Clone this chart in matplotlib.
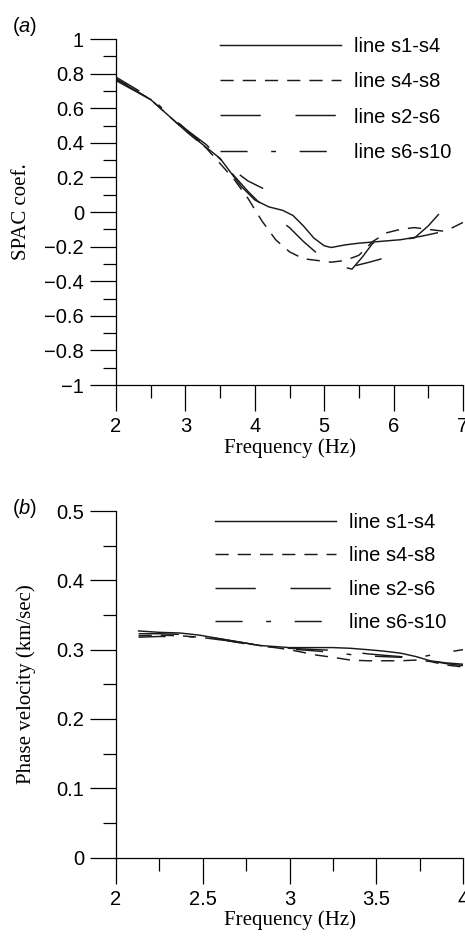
"""
SPAC coefficients and phase-velocity dispersion curves for four station lines.
"""
import numpy as np
import matplotlib
matplotlib.use('Agg')
import matplotlib.pyplot as plt
from matplotlib.ticker import MultipleLocator, FuncFormatter

plt.rcParams['font.family'] = ['Liberation Sans', 'DejaVu Sans']
plt.rcParams['mathtext.fontset'] = 'custom'
plt.rcParams['mathtext.rm'] = 'Liberation Sans'
plt.rcParams['mathtext.it'] = 'Liberation Sans:italic'
plt.rcParams['lines.scale_dashes'] = False

labels = ['line s1-s4', 'line s4-s8', 'line s2-s6', 'line s6-s10']

# (a) SPAC coefficient vs frequency
spac_f_s1s4 = [2.0, 2.25, 2.5, 2.75, 3.0, 3.25, 3.5, 3.65, 3.8, 4.0, 4.2, 4.4,
               4.55, 4.7, 4.85, 5.0, 5.1, 5.3, 5.5, 5.8, 6.1, 6.4, 6.63]
spac_v_s1s4 = [0.77, 0.71, 0.65, 0.56, 0.47, 0.39, 0.31, 0.23, 0.15, 0.07, 0.03, 0.01,
               -0.02, -0.08, -0.15, -0.195, -0.205, -0.19, -0.18, -0.17, -0.16, -0.14, -0.12]

spac_f_s4s8 = [2.0, 2.5, 3.0, 3.3, 3.5, 3.7, 3.9, 4.1, 4.3, 4.5, 4.7, 4.9, 5.1,
               5.3, 5.5, 5.7, 5.9, 6.1, 6.3, 6.5, 6.7, 6.85, 7.0]
spac_v_s4s8 = [0.77, 0.65, 0.47, 0.37, 0.28, 0.19, 0.08, -0.05, -0.16, -0.23, -0.27, -0.28, -0.29,
               -0.28, -0.25, -0.17, -0.12, -0.10, -0.09, -0.10, -0.11, -0.09, -0.06]

spac_f_s2s6 = [2.0, 2.5, 3.0, 3.3, 3.5, 3.7, 3.9, 4.1, 4.3, 4.5, 4.7, 4.9, 5.1,
               5.3, 5.4, 5.55, 5.7, 5.9, 6.1, 6.3, 6.5, 6.7, 6.8, 6.95]
spac_v_s2s6 = [0.76, 0.65, 0.48, 0.39, 0.31, 0.21, 0.12, 0.04, -0.03, -0.09, -0.17, -0.24, -0.29,
               -0.32, -0.33, -0.26, -0.18, -0.16, -0.16, -0.15, -0.08, 0.01, 0.02, 0.01]

spac_f_s6s10 = [2.0, 2.5, 3.0, 3.3, 3.6, 3.9, 4.2, np.nan, 5.45, 5.65, 5.83]
spac_v_s6s10 = [0.78, 0.66, 0.48, 0.38, 0.27, 0.18, 0.12, np.nan, -0.31, -0.29, -0.27]

# (b) phase velocity vs frequency
vel_f = [2.13, 2.25, 2.37, 2.48, 2.64, 2.83, 3.0, 3.16, 3.25, 3.35, 3.45, 3.54, 3.64, 3.73, 3.81, 3.9, 4.0]
vel_s1s4 = [0.327, 0.325, 0.324, 0.321, 0.314, 0.306, 0.303, 0.303, 0.303, 0.302, 0.300, 0.298,
            0.295, 0.290, 0.284, 0.281, 0.279]
vel_s4s8 = [0.320, 0.321, 0.320, 0.318, 0.313, 0.306, 0.300, 0.292, 0.289, 0.285, 0.284, 0.284,
            0.284, 0.285, 0.283, 0.278, 0.275]
vel_s2s6 = [0.323, 0.323, 0.322, 0.320, 0.314, 0.306, 0.302, 0.300, 0.299, 0.297, 0.294, 0.292,
            0.290, 0.288, 0.284, 0.280, 0.277]
vel_s6s10 = [0.318, 0.319, 0.319, 0.318, 0.313, 0.305, 0.301, 0.298, 0.296, 0.293, 0.291, 0.290,
             0.289, 0.288, 0.292, 0.296, 0.300]

styles = [
    dict(linestyle='-'),
    dict(linestyle=(0, (9.5, 6.5))),
    dict(linestyle=(0, (29, 25))),
    dict(linestyle=(0, (19.5, 17, 3.5, 17))),
]

tick_font = 14.5
label_font = dict(family='Liberation Serif', size=15)


def style_axes(ax, xmajor, xminor, ymajor, yminor):
    for side in ('top', 'right'):
        ax.spines[side].set_visible(False)
    for side in ('left', 'bottom'):
        ax.spines[side].set_linewidth(0.9)
    ax.xaxis.set_major_locator(MultipleLocator(xmajor))
    ax.xaxis.set_minor_locator(MultipleLocator(xminor))
    ax.yaxis.set_major_locator(MultipleLocator(ymajor))
    ax.yaxis.set_minor_locator(MultipleLocator(yminor))
    ax.tick_params(which='major', direction='out', length=19, width=0.9,
                   labelsize=tick_font, pad=4)
    ax.tick_params(which='minor', direction='out', length=9.5, width=0.9)
    fmt = FuncFormatter(lambda v, p: ('%g' % round(v, 3)).replace('-', '\u2212'))
    ax.xaxis.set_major_formatter(fmt)
    ax.yaxis.set_major_formatter(fmt)


fig = plt.figure(figsize=(4.65, 9.43), dpi=100)

# ---- panel (a)
ax1 = fig.add_axes([0.2495, 0.5917, 0.7462, 0.3669])
series_a = [(spac_f_s1s4, spac_v_s1s4), (spac_f_s4s8, spac_v_s4s8),
            (spac_f_s2s6, spac_v_s2s6), (spac_f_s6s10, spac_v_s6s10)]
for (f, v), st, lab in zip(series_a, styles, labels):
    ax1.plot(f, v, color='#1a1a1a', lw=1.05, label=lab, **st)
ax1.set_xlim(2, 7)
ax1.set_ylim(-1, 1)
style_axes(ax1, 1, 0.5, 0.2, 0.1)
ax1.set_xlabel('Frequency (Hz)', fontdict=label_font)
ax1.set_ylabel('SPAC coef.', fontdict=label_font)
ax1.xaxis.set_label_coords(0.5, -0.155)
ax1.yaxis.set_label_coords(-0.245, 0.5)
ax1.legend(loc='upper left', bbox_to_anchor=(0.30, 1.005), frameon=False,
           fontsize=14.5, handlelength=6.0, handletextpad=0.65,
           labelspacing=0.8, borderpad=0, borderaxespad=0)
fig.text(12 / 465, 1 - 26 / 943, r'($\mathit{a}$)', fontsize=14.5, va='center', ha='left')

# ---- panel (b)
ax2 = fig.add_axes([0.2495, 0.0905, 0.7462, 0.3676])
for v, st, lab in zip([vel_s1s4, vel_s4s8, vel_s2s6, vel_s6s10], styles, labels):
    ax2.plot(vel_f, v, color='#1a1a1a', lw=1.05, label=lab, **st)
ax2.set_xlim(2, 4)
ax2.set_ylim(0, 0.5)
style_axes(ax2, 0.5, 0.25, 0.1, 0.05)
ax2.set_xlabel('Frequency (Hz)', fontdict=label_font)
ax2.set_ylabel('Phase velocity (km/sec)', fontdict=label_font)
ax2.xaxis.set_label_coords(0.5, -0.153)
ax2.yaxis.set_label_coords(-0.232, 0.5)
ax2.legend(loc='upper left', bbox_to_anchor=(0.285, 0.995), frameon=False,
           fontsize=14.5, handlelength=6.0, handletextpad=0.65,
           labelspacing=0.72, borderpad=0, borderaxespad=0)
fig.text(12 / 465, 1 - 508 / 943, r'($\mathit{b}$)', fontsize=14.5, va='center', ha='left')

fig.savefig('out.png', dpi=100)
